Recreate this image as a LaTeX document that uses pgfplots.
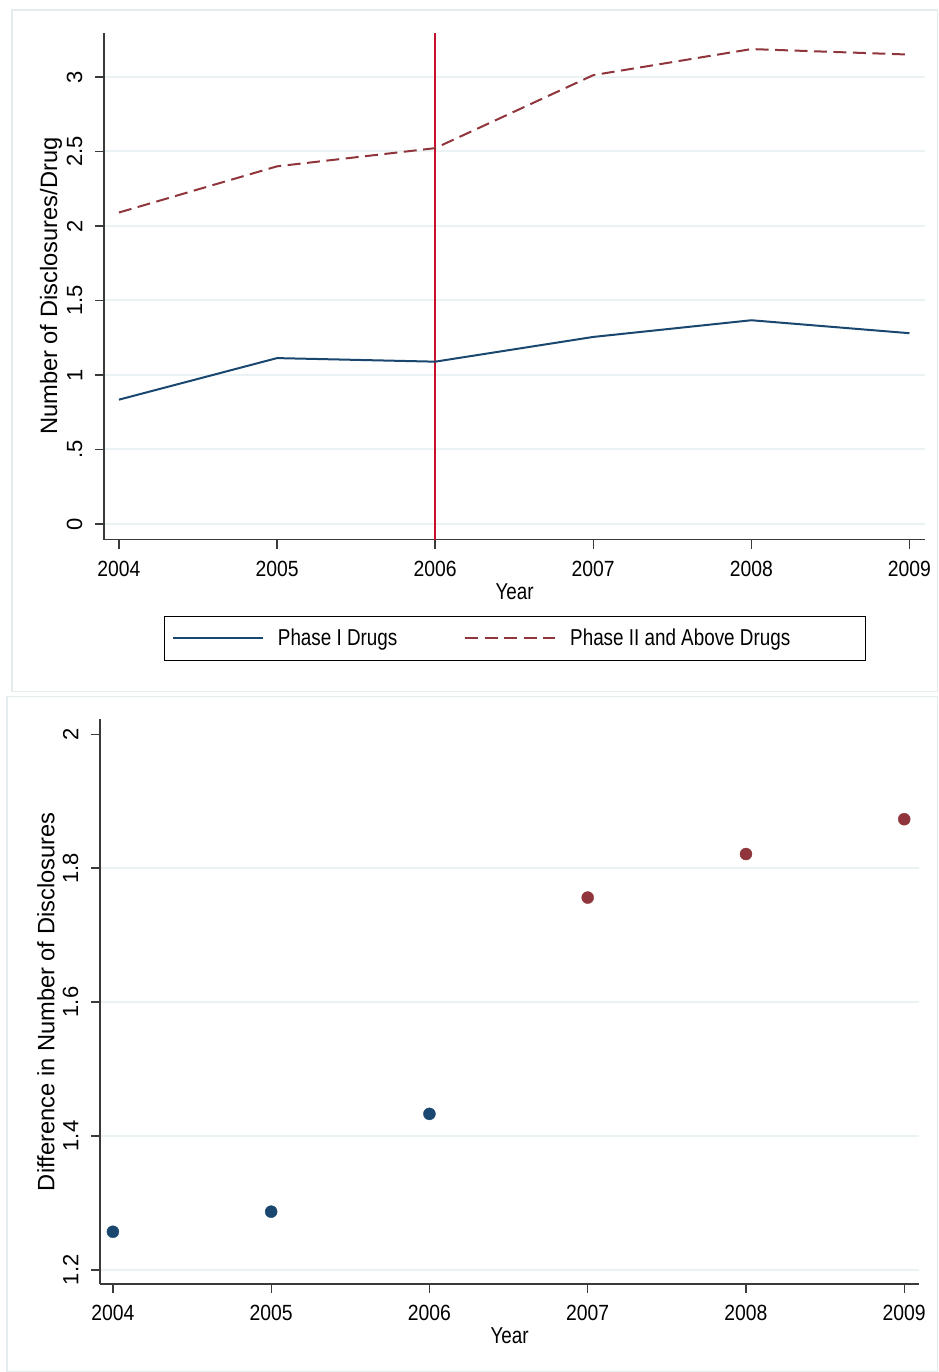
\documentclass[border=0pt]{standalone}
\usepackage{fontspec}
\setmainfont{Liberation Sans}
\newfontfamily\cond[FakeStretch=0.82]{Liberation Sans}
\newfontfamily\tickf[FakeStretch=0.88]{Liberation Sans}
\usepackage{pgfplots}
\pgfplotsset{compat=1.18}
\definecolor{navyS}{HTML}{1A476F}
\definecolor{maroonS}{HTML}{90353B}
\definecolor{redS}{HTML}{C8102E}
\definecolor{gridS}{HTML}{EAF2F3}
\definecolor{frameS}{HTML}{E4ECEE}
\definecolor{axisS}{HTML}{3A3A3A}
\pgfplotsset{stata/.style={
  scale only axis,
  axis lines*=left,
  axis line style={line width=1.3pt, axisS, -},
  tick align=outside,
  major tick length=9pt,
  tick style={line width=1.3pt, axisS},
  xtick={2004,2005,2006,2007,2008,2009},
  xticklabels={2004,2005,2006,2007,2008,2009},
  xticklabel style={font=\tickf\fontsize{22}{22}\selectfont, text=black, yshift=-9pt},
  yticklabel style={xshift=-9pt, rotate=90, anchor=south, font=\fontsize{22}{22}\selectfont, text=black},
  xlabel={Year},
  xlabel style={font=\cond\fontsize{23}{23}\selectfont},
  ylabel style={font=\fontsize{23.7}{24}\selectfont},
  ymajorgrids,
  major grid style={gridS, line width=2pt},
}}
\begin{document}
\begin{tikzpicture}[x=1pt,y=1pt]
\fill[white] (0,0) rectangle (938,-1372);
\draw[frameS, line width=1.2pt] (12,-10) rectangle (938.5,-692);
\draw[frameS, line width=1.2pt] (7,-697) rectangle (938.5,-1372.5);

\begin{axis}[stata,
  at={(104pt,-540pt)}, anchor=south west,
  width=822pt, height=507pt,
  xmin=2003.905, xmax=2009.1,
  ymin=-0.105, ymax=3.295,
  ytick={0,0.5,1,1.5,2,2.5,3},
  yticklabels={0,.5,1,1.5,2,2.5,3},
  ylabel={Number of Disclosures/Drug},
  ylabel style={at={(axis description cs:-0.0645,0.5)}, anchor=center},
  legend style={at={(0.5,-0.1499)}, anchor=north, legend columns=2,
    draw=black, line width=1pt, font=\cond\fontsize{23}{23}\selectfont,
    inner xsep=8pt, inner ysep=11pt,
    /tikz/every odd column/.append style={column sep=12pt},
    /tikz/every even column/.append style={column sep=65pt}},
  legend cell align=left,
]
\addplot[redS, line width=2pt, forget plot] coordinates {(2006,-0.105) (2006,3.295)};
\addplot[navyS, line width=2pt,
  legend image code/.code={\draw[navyS, line width=2pt] (0pt,0pt) -- (90pt,0pt);}]
  coordinates {(2004,0.834) (2005,1.113) (2006,1.089) (2007,1.255) (2008,1.367) (2009,1.280)};
\addlegendentry{Phase I Drugs}
\addplot[maroonS, line width=2pt, dash pattern=on 13pt off 6.5pt,
  legend image code/.code={\draw[maroonS, line width=2pt, dash pattern=on 13pt off 6.5pt] (0pt,0pt) -- (90pt,0pt);}]
  coordinates {(2004,2.090) (2005,2.400) (2006,2.522) (2007,3.012) (2008,3.187) (2009,3.150)};
\addlegendentry{Phase II and Above Drugs\rule{65pt}{0pt}}
\end{axis}

\begin{axis}[stata,
  at={(100pt,-1285pt)}, anchor=south west,
  width=820pt, height=565pt,
  xmin=2003.918, xmax=2009.095,
  ymin=1.179, ymax=2.022,
  ytick={1.2,1.4,1.6,1.8},
  yticklabels={1.2,1.4,1.6,1.8},
  extra y ticks={2}, extra y tick labels={2},
  extra y tick style={grid=none},
  ylabel={Difference in Number of Disclosures},
  ylabel style={at={(axis description cs:-0.0659,0.5)}, anchor=center},
]
\addplot[only marks, mark=*, mark size=6pt, navyS, mark options={draw=navyS, fill=navyS}]
  coordinates {(2004,1.257) (2005,1.287) (2006,1.433)};
\addplot[only marks, mark=*, mark size=6pt, maroonS, mark options={draw=maroonS, fill=maroonS}]
  coordinates {(2007,1.756) (2008,1.821) (2009,1.873)};
\end{axis}
\end{tikzpicture}
\end{document}
